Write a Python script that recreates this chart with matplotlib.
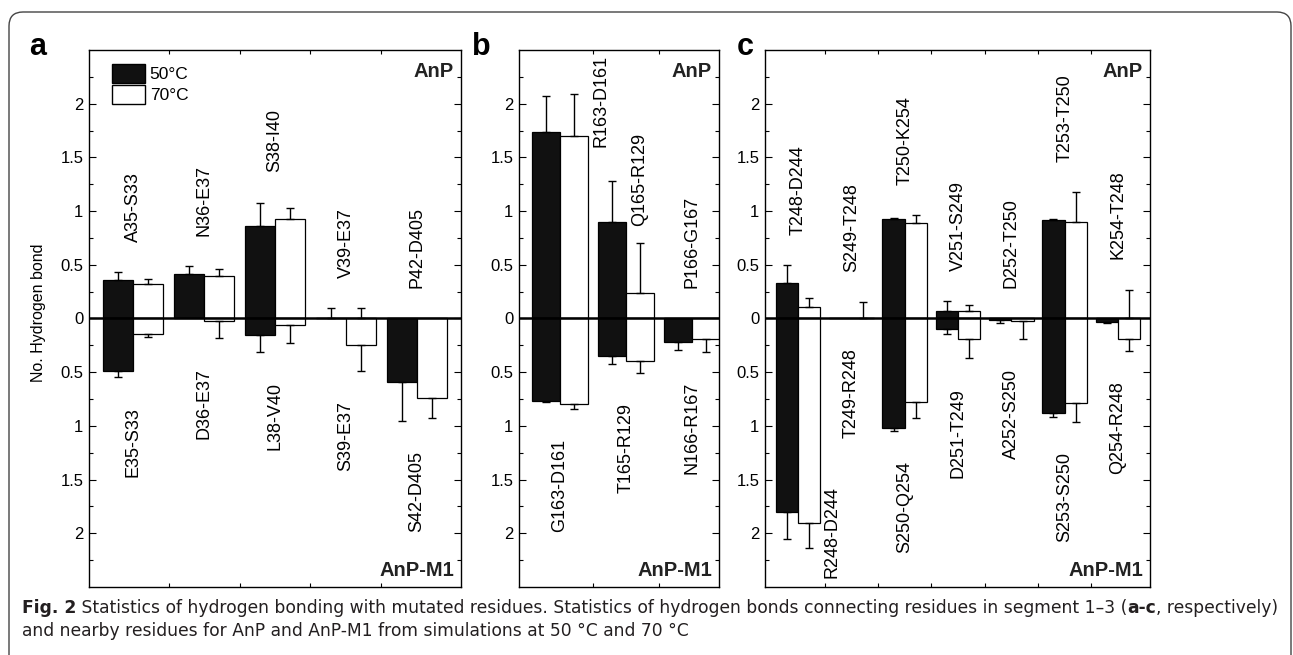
import numpy as np
import matplotlib
matplotlib.use("Agg")
import matplotlib.pyplot as plt
from matplotlib.patches import Patch, FancyBboxPatch
from matplotlib.text import Annotation
from matplotlib.ticker import FixedLocator, FuncFormatter, NullLocator
from matplotlib.transforms import IdentityTransform

plt.rcParams['font.family'] = ['Liberation Sans', 'DejaVu Sans']

# ---- data (AnP above zero, AnP-M1 below zero) ----
# panel a
a_pos_labels = ['A35-S33', 'N36-E37', 'S38-I40', 'V39-E37', 'P42-D405']
a_neg_labels = ['E35-S33', 'D36-E37', 'L38-V40', 'S39-E37', 'S42-D405']
a_pos_50 = [0.36, 0.415, 0.86, 0.0, 0.0]
a_pos_50_err = [0.07, 0.075, 0.22, 0.10, 0.0]
a_pos_70 = [0.32, 0.40, 0.93, 0.0, 0.0]
a_pos_70_err = [0.05, 0.06, 0.10, 0.10, 0.0]
a_neg_50 = [0.49, 0.0, 0.15, 0.0, 0.595]
a_neg_50_err = [0.055, 0.0, 0.16, 0.0, 0.355]
a_neg_70 = [0.14, 0.02, 0.06, 0.25, 0.74]
a_neg_70_err = [0.03, 0.165, 0.17, 0.24, 0.19]

# panel b
b_pos_labels = ['R163-D161', 'Q165-R129', 'P166-G167']
b_neg_labels = ['G163-D161', 'T165-R129', 'N166-R167']
b_pos_50 = [1.74, 0.90, 0.0]
b_pos_50_err = [0.33, 0.38, 0.0]
b_pos_70 = [1.70, 0.24, 0.0]
b_pos_70_err = [0.39, 0.46, 0.0]
b_neg_50 = [0.77, 0.35, 0.22]
b_neg_50_err = [0.01, 0.07, 0.07]
b_neg_70 = [0.80, 0.40, 0.19]
b_neg_70_err = [0.045, 0.11, 0.12]

# panel c
c_pos_labels = ['T248-D244', 'S249-T248', 'T250-K254', 'V251-S249',
                'D252-T250', 'T253-T250', 'K254-T248']
c_neg_labels = ['R248-D244', 'T249-R248', 'S250-Q254', 'D251-T249',
                'A252-S250', 'S253-S250', 'Q254-R248']
c_pos_50 = [0.33, 0.0, 0.93, 0.07, 0.0, 0.92, 0.0]
c_pos_50_err = [0.17, 0.0, 0.01, 0.09, 0.0, 0.01, 0.0]
c_pos_70 = [0.11, 0.0, 0.89, 0.07, 0.0, 0.90, 0.0]
c_pos_70_err = [0.08, 0.15, 0.07, 0.06, 0.0, 0.28, 0.27]
c_neg_50 = [1.80, 0.0, 1.02, 0.10, 0.01, 0.88, 0.035]
c_neg_50_err = [0.25, 0.0, 0.03, 0.04, 0.035, 0.04, 0.01]
c_neg_70 = [1.90, 0.0, 0.78, 0.19, 0.02, 0.79, 0.19]
c_neg_70_err = [0.24, 0.0, 0.15, 0.18, 0.17, 0.17, 0.11]

legend_labels = ['50\u00b0C', '70\u00b0C']

caption_1 = [('Fig. 2', 'bold'),
             (' Statistics of hydrogen bonding with mutated residues. Statistics of hydrogen '
              'bonds connecting residues in segment 1\u20133 (', 'normal'),
             ('a-c', 'bold'),
             (', respectively)', 'normal')]
caption_2 = 'and nearby residues for AnP and AnP-M1 from simulations at 50 \u00b0C and 70 \u00b0C'

# ---- layout ----
W, H = 1293, 655
BAR_W = 0.42
GAP = 0.28
# labels that sit beside the bars instead of over/under them: (dx, y, va)
LABEL_SPOT = {'R163-D161': (0.62, 2.45, 'top'),
              'Q165-R129': (0.21, 0.86, 'bottom'),
              'R248-D244': (0.64, -1.56, 'top')}

fig = plt.figure(figsize=(W / 100, H / 100), dpi=100)


def px_axes(left, right, top=50, bottom=587):
    return fig.add_axes([left / W, 1 - bottom / H, (right - left) / W, (bottom - top) / H])


def draw_panel(ax, pos_labels, neg_labels, p50, p50e, p70, p70e,
               n50, n50e, n70, n70e, xlim):
    x = np.arange(len(pos_labels))
    p50, p50e, p70, p70e = map(np.array, (p50, p50e, p70, p70e))
    n50, n50e, n70, n70e = map(np.array, (n50, n50e, n70, n70e))
    zeros = np.zeros(len(x))

    ax.bar(x - BAR_W / 2, p50, BAR_W, color='#111111', edgecolor='black', lw=0.9)
    ax.bar(x + BAR_W / 2, p70, BAR_W, color='white', edgecolor='black', lw=0.9)
    ax.bar(x - BAR_W / 2, -n50, BAR_W, color='#111111', edgecolor='black', lw=0.9)
    ax.bar(x + BAR_W / 2, -n70, BAR_W, color='white', edgecolor='black', lw=0.9)

    ekw = dict(fmt='none', ecolor='black', elinewidth=1.0, capsize=3, capthick=1.0)
    for xs, v, e in [(x - BAR_W / 2, p50, p50e), (x + BAR_W / 2, p70, p70e)]:
        m = e > 0
        ax.errorbar(xs[m], v[m], yerr=[zeros[m], e[m]], **ekw)
    for xs, v, e in [(x - BAR_W / 2, n50, n50e), (x + BAR_W / 2, n70, n70e)]:
        m = e > 0
        ax.errorbar(xs[m], -v[m], yerr=[e[m], zeros[m]], **ekw)

    ax.axhline(0, color='black', lw=1.8, zorder=6)

    for i, lab in enumerate(pos_labels):
        top = max(p50[i] + p50e[i], p70[i] + p70e[i])
        dx, y, va = LABEL_SPOT.get(lab, (0, top + GAP, 'bottom'))
        ax.text(x[i] + dx, y, lab, rotation=90, ha='center', va=va, fontsize=13)
    for i, lab in enumerate(neg_labels):
        bot = max(n50[i] + n50e[i], n70[i] + n70e[i])
        dx, y, va = LABEL_SPOT.get(lab, (0, -(bot + GAP), 'top'))
        ax.text(x[i] + dx, y, lab, rotation=90, ha='center', va=va, fontsize=13)

    ax.set_xlim(*xlim)
    ax.set_ylim(-2.5, 2.5)
    ax.yaxis.set_major_locator(FixedLocator(np.arange(-2, 2.01, 0.5)))
    ax.yaxis.set_minor_locator(FixedLocator(np.arange(-2.25, 2.3, 0.5)))
    ax.yaxis.set_major_formatter(FuncFormatter(lambda v, p: f'{abs(v):g}'))
    ax.xaxis.set_major_locator(NullLocator())
    ax.xaxis.set_minor_locator(FixedLocator(x[:-1] + 0.5))
    ax.tick_params(axis='y', which='both', direction='in', left=True, right=True,
                   labelsize=12, pad=4, width=0.8)
    ax.tick_params(axis='y', which='major', length=5)
    ax.tick_params(axis='y', which='minor', length=3)
    ax.tick_params(axis='x', which='minor', direction='in', top=True, bottom=True,
                   length=3, width=0.8)
    for s in ax.spines.values():
        s.set_linewidth(1.0)

    ax.annotate('AnP', xy=(1, 1), xycoords='axes fraction', xytext=(-5, -9),
                textcoords='offset points', ha='right', va='top',
                fontsize=14.5, fontweight='bold', color='#222222')
    ax.annotate('AnP-M1', xy=(1, 0), xycoords='axes fraction', xytext=(-5, 5),
                textcoords='offset points', ha='right', va='bottom',
                fontsize=14.5, fontweight='bold', color='#222222')


ax_a = px_axes(89, 461)
ax_b = px_axes(519, 719)
ax_c = px_axes(765, 1150)

draw_panel(ax_a, a_pos_labels, a_neg_labels, a_pos_50, a_pos_50_err, a_pos_70, a_pos_70_err,
           a_neg_50, a_neg_50_err, a_neg_70, a_neg_70_err, (-0.62, 4.62))
draw_panel(ax_b, b_pos_labels, b_neg_labels, b_pos_50, b_pos_50_err, b_pos_70, b_pos_70_err,
           b_neg_50, b_neg_50_err, b_neg_70, b_neg_70_err, (-0.62, 2.41))
draw_panel(ax_c, c_pos_labels, c_neg_labels, c_pos_50, c_pos_50_err, c_pos_70, c_pos_70_err,
           c_neg_50, c_neg_50_err, c_neg_70, c_neg_70_err, (-0.62, 6.6))

ax_a.set_ylabel('No. Hydrogen bond', fontsize=11.5)
ax_a.yaxis.set_label_coords(-0.115, 0.51)

handles = [Patch(facecolor='#111111', edgecolor='black', lw=1.0),
           Patch(facecolor='white', edgecolor='black', lw=1.0)]
ax_a.legend(handles, legend_labels, loc='upper left', bbox_to_anchor=(0.03, 0.997),
            frameon=False, fontsize=12.5, handlelength=1.9, handleheight=1.3,
            handletextpad=0.25, labelspacing=0.12, borderpad=0.2)

for letter, xp in [('a', 29), ('b', 472), ('c', 737)]:
    fig.text(xp / W, 1 - 55 / H, letter, fontsize=22, fontweight='bold', va='baseline')

# caption, sized so the first line runs to the right edge like the original
cap_font = ['DejaVu Sans']
cap_size = 11.0
cap_kw = dict(family=cap_font, color='#231f20')
cap_texts = [fig.text(22 / W, 1 - 613 / H, caption_1[0][0], fontweight=caption_1[0][1],
                      fontsize=cap_size, va='baseline', **cap_kw)]
for txt, wt in caption_1[1:]:
    t = Annotation(txt, xy=(1, 0), xycoords=cap_texts[-1], ha='left', va='bottom',
                   fontweight=wt, fontsize=cap_size, annotation_clip=False, **cap_kw)
    fig.add_artist(t)
    cap_texts.append(t)
cap_texts.append(fig.text(22 / W, 1 - 636 / H, caption_2, fontsize=cap_size,
                          va='baseline', **cap_kw))

fig.canvas.draw()
r = fig.canvas.get_renderer()
right = cap_texts[len(caption_1) - 1].get_window_extent(r).x1
scale = (1278 - 22) / (right - 22)
for t in cap_texts:
    t.set_fontsize(cap_size * scale)

frame = FancyBboxPatch((9, -30), 1282, 643 + 30, boxstyle='round,pad=0,rounding_size=14',
                       transform=IdentityTransform(), fill=False, edgecolor='#444444',
                       lw=1.0)
fig.patches.append(frame)

fig.savefig('out.png', dpi=100)
